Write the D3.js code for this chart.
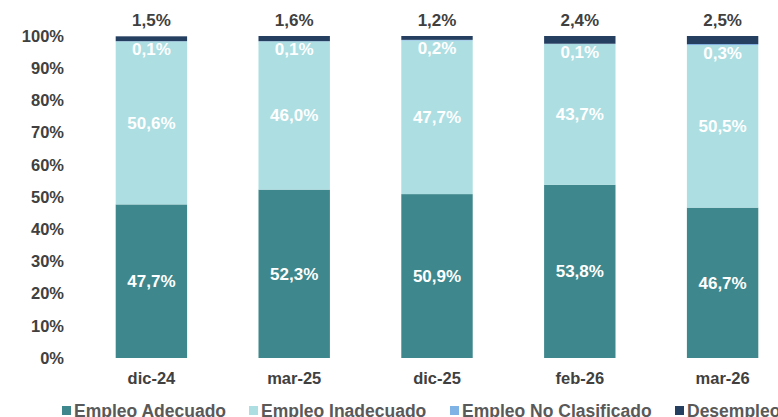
<!doctype html>
<html>
  <head>
    <script src="https://d3js.org/d3.v7.min.js"></script>
    <style>
      body { margin: 0; background: #fff; }
      text { font-family: "Liberation Sans", Arial, sans-serif; font-weight: bold; }
    </style>
  </head>
  <body>
    <svg id="chart" width="778" height="417"></svg>
    <script>
      var categories = ['dic-24', 'mar-25', 'dic-25', 'feb-26', 'mar-26'];
      var seriesNames = ['Empleo Adecuado', 'Empleo Inadecuado', 'Empleo No Clasificado', 'Desempleo'];
      var adecuado = [47.7, 52.3, 50.9, 53.8, 46.7];
      var inadecuado = [50.6, 46.0, 47.7, 43.7, 50.5];
      var noClasificado = [0.1, 0.1, 0.2, 0.1, 0.3];
      var desempleo = [1.5, 1.6, 1.2, 2.4, 2.5];
      var yTicks = [0, 10, 20, 30, 40, 50, 60, 70, 80, 90, 100];
      var colors = ['#3e878c', '#acdee2', '#7fb3e6', '#253f61'];

      var fmt = v => v.toFixed(1).replace('.', ',') + '%';

      var rows = categories.map((c, i) => ({
        cat: c,
        'Empleo Adecuado': adecuado[i],
        'Empleo Inadecuado': inadecuado[i],
        'Empleo No Clasificado': noClasificado[i],
        'Desempleo': desempleo[i]
      }));

      var svg = d3.select('#chart');

      var xScale = d3.scaleBand()
        .domain(categories)
        .range([80, 794])
        .paddingInner(0.5)
        .paddingOuter(0.25);

      var yScale = d3.scaleLinear()
        .domain([0, 100])
        .range([358, 36]);

      var stack = d3.stack().keys(seriesNames);
      var layers = stack(rows);

      var yAxis = d3.axisLeft(yScale)
        .tickValues(yTicks)
        .tickSize(0)
        .tickPadding(0)
        .tickFormat(d => d + '%');

      svg.append('g')
        .attr('transform', 'translate(64,0)')
        .call(yAxis)
        .call(g => g.select('.domain').remove())
        .selectAll('text')
          .style('font-size', '16.5px')
          .style('font-family', '"Liberation Sans", Arial, sans-serif')
          .style('font-weight', 'bold')
          .attr('fill', '#404040');

      var xAxis = d3.axisBottom(xScale).tickSize(0).tickPadding(0);

      svg.append('g')
        .attr('transform', 'translate(0,372)')
        .call(xAxis)
        .call(g => g.select('.domain').remove())
        .selectAll('text')
          .style('font-size', '16.5px')
          .style('font-family', '"Liberation Sans", Arial, sans-serif')
          .style('font-weight', 'bold')
          .attr('fill', '#404040');

      svg.selectAll('g.layer')
        .data(layers)
        .enter()
        .append('g')
          .attr('class', 'layer')
          .attr('fill', (d, i) => colors[i])
        .selectAll('rect')
        .data(d => d)
        .enter()
        .append('rect')
          .attr('x', d => xScale(d.data.cat))
          .attr('width', xScale.bandwidth())
          .attr('y', d => yScale(d[1]))
          .attr('height', d => yScale(d[0]) - yScale(d[1]));

      // labels
      var labels = svg.append('g').attr('text-anchor', 'middle').style('font-size', '17px');

      layers.forEach(function(layer, li) {
        layer.forEach(function(d) {
          var v = d.data[seriesNames[li]];
          var cx = xScale(d.data.cat) + xScale.bandwidth() / 2;
          var y, fill;
          if (li < 2) {
            y = (yScale(d[0]) + yScale(d[1])) / 2;
            fill = '#ffffff';
          } else if (li === 2) {
            y = yScale(d[0]) + 8;
            fill = '#ffffff';
          } else {
            y = yScale(d[1]) - 16;
            fill = '#404040';
          }
          labels.append('text')
            .attr('x', cx)
            .attr('y', y)
            .attr('dy', '0.35em')
            .attr('fill', fill)
            .text(fmt(v));
        });
      });

      // legend
      var legendX = [62, 249, 450, 675];
      var legend = svg.append('g').attr('transform', 'translate(0,411)');
      seriesNames.forEach(function(name, i) {
        legend.append('rect')
          .attr('x', legendX[i])
          .attr('y', -5)
          .attr('width', 9)
          .attr('height', 9)
          .attr('fill', colors[i]);
        legend.append('text')
          .attr('x', legendX[i] + 12)
          .attr('y', 0)
          .attr('dy', '0.35em')
          .attr('fill', '#595959')
          .style('font-size', '17.5px')
          .text(name);
      });
    </script>
  </body>
</html>
